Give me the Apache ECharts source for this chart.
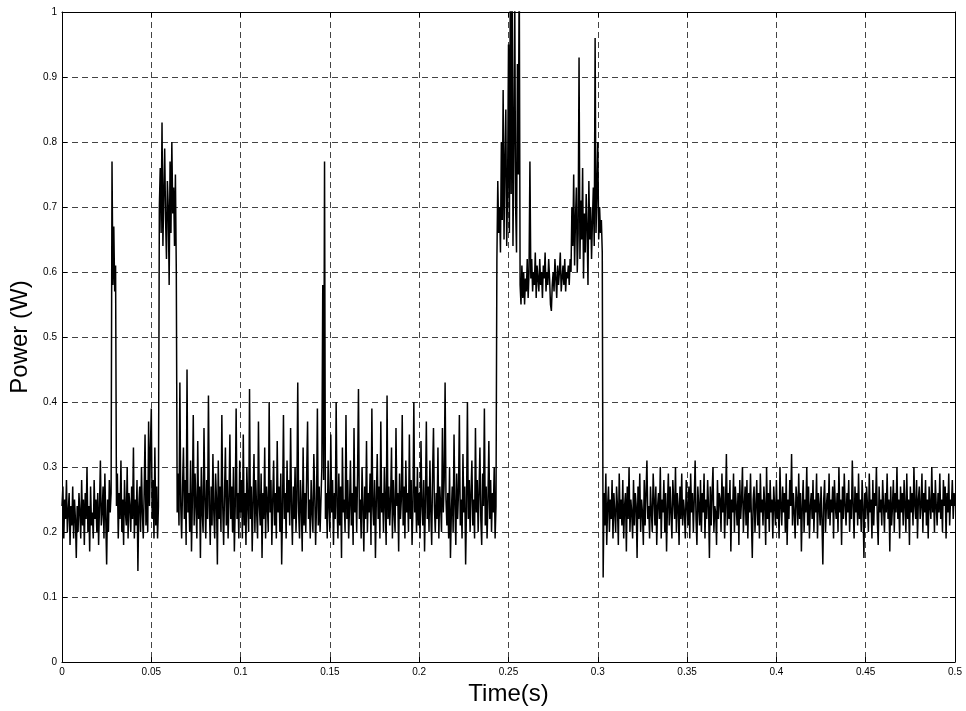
<!DOCTYPE html>
<html>
<head>
<meta charset="utf-8">
<script src="https://cdn.jsdelivr.net/npm/echarts@6/dist/echarts.min.js"></script>
<style>html,body{margin:0;padding:0;background:#fff;}#c{width:966px;height:711px;}</style>
</head>
<body>
<div id="c"></div>
<script>
// Sample spacing (s) and start time of each 0.05 s window
var sampleStep = 0.0005;
var windowStarts = [0, 0.05, 0.10, 0.15, 0.20, 0.25, 0.30, 0.35, 0.40, 0.45];
var xTicks = [0, 0.05, 0.1, 0.15, 0.2, 0.25, 0.3, 0.35, 0.4, 0.45, 0.5];
var yTicks = [0, 0.1, 0.2, 0.3, 0.4, 0.5, 0.6, 0.7, 0.8, 0.9, 1];

// Power (W), one array per 0.05 s window
var power_000 = [
.24,.27,.19,.25,.22,.28,.20,.23,.26,.18,.24,.21,.27,.19,.25,.22,.16,.24,.20,.26,
.23,.19,.28,.21,.25,.18,.26,.22,.30,.20,.24,.17,.27,.21,.23,.19,.28,.22,.25,.20,
.26,.18,.24,.31,.21,.23,.27,.19,.29,.22,.15,.25,.20,.28,.23,.26,.77,.58,.67,.57,
.61,.24,.29,.19,.26,.22,.31,.20,.25,.18,.28,.23,.21,.30,.19,.26,.24,.20,.27,.22,
.33,.19,.25,.21,.28,.14,.24,.27,.20,.30,.23,.19,.26,.35,.21,.28,.20,.37,.24,.33];
var power_050 = [
.39,.22,.28,.19,.33,.21,.27,.19,.24,
.70,.76,.66,.83,.64,.72,.79,.68,.62,.74,.70,.58,.77,.66,.80,.69,.73,.64,.75,
.60,.23,
.29,.21,.43,.24,.19,.27,.33,.22,.28,.18,.45,.23,.26,.20,.31,.17,.25,.38,.21,.29,
.24,.19,.34,.22,.27,.16,.30,.23,.20,.36,.25,.19,.28,.22,.41,.24,.18,.27,.21,.32,
.23,.19,.29,.25,.15,.31,.22,.27,.20,.38,.24,.18,.26,.33,.21,.28,.19,.25,.35,.22,
.27,.20,.30,.17,.24,.39,.22,.26,.19,.31];
var power_100 = [
.23,.28,.19,.35,.21,.26,.18,.30,.24,.20,.42,.22,.27,.17,.25,.32,.20,.28,.23,.19,
.37,.24,.21,.29,.16,.26,.22,.33,.19,.27,.24,.20,.40,.23,.28,.18,.25,.31,.21,.26,
.19,.34,.23,.27,.20,.29,.15,.24,.38,.22,.26,.19,.31,.23,.28,.21,.36,.24,.18,.27,
.22,.30,.20,.25,.43,.23,.19,.28,.24,.17,.33,.21,.26,.20,.29,.37,.22,.25,.19,.28,
.23,.20,.32,.26,.18,.24,.39,.21,.27,.20,.25,.30,.58,.28,.77,.22,.26,.19,.31,.24];
var power_150 = [
.20,.35,.23,.28,.18,.26,.22,.40,.24,.19,.29,.21,.27,.16,.33,.23,.25,.20,.38,.22,
.28,.19,.24,.31,.21,.26,.18,.36,.23,.27,.20,.29,.42,.22,.25,.19,.30,.24,.17,.27,
.22,.34,.20,.26,.23,.29,.18,.39,.24,.21,.28,.16,.25,.32,.22,.27,.19,.37,.23,.26,
.20,.30,.24,.18,.41,.22,.27,.21,.25,.33,.19,.28,.23,.20,.36,.24,.26,.17,.29,.22,
.25,.38,.21,.27,.19,.31,.23,.26,.20,.35,.22,.28,.18,.24,.40,.23,.27,.20,.30,.21];
var power_200 = [
.26,.19,.34,.24,.21,.28,.17,.25,.37,.22,.27,.20,.31,.23,.18,.29,.36,.24,.20,.26,
.22,.33,.19,.27,.24,.20,.36,.23,.28,.43,.25,.21,.26,.19,.30,.16,.23,.27,.20,.35,
.24,.18,.29,.22,.26,.38,.21,.25,.19,.32,.23,.27,.15,.24,.40,.22,.28,.20,.26,.31,
.21,.25,.19,.36,.23,.28,.20,.26,.33,.22,.18,.29,.24,.39,.21,.27,.19,.25,.34,.22,
.28,.20,.26,.23,.30,.19,.24,
.62,.74,.66,.70,.63,.80,.68,.88,.65,.77,.85,.64,.73];
var power_250 = [
.95,.66,1.05,.72,1.1,.64,.80,1.02,.70,.63,.92,.75,1.08,
.58,.55,.61,.56,.60,.55,.59,.57,.62,.56,.60,
.77,
.59,.62,.57,.60,.58,.63,.56,.61,.59,.57,.62,.58,.60,.56,.61,.59,.63,.57,.60,.58,
.62,.59,.55,.54,.58,.60,.57,.62,.59,.56,.61,.58,.60,.63,.57,.59,.61,.58,.62,.57,
.60,.59,.61,.58,.62,.60,
.70,.64,.75,.61,.68,.73,.60,.66,.93,.62,.71,.65,.76,.59,.69,.63,.72,.67,.58,.74,
.65,.70,.62,.68,.73,.64,.96,.66,.72];
var power_300 = [
.80,.65,.70,.66,.68,.63,.13,
.26,.21,.29,.18,.24,.27,.20,.25,.22,.28,.19,.26,.23,
.20,.27,.24,.18,.29,.22,.25,.21,.28,.19,.24,.26,.17,.27,.22,.30,.20,.25,.23,.19,
.28,.21,.26,.24,.16,.27,.22,.29,.20,.25,.23,.18,.28,.21,.26,.31,.22,.24,.19,.27,
.23,.20,.29,.25,.21,.27,.18,.24,.26,.22,.30,.19,.25,.23,.28,.20,.26,.17,.24,.29,
.21,.27,.23,.19,.28,.25,.22,.30,.20,.26,.24,.18,.27,.22,.29,.21,.25,.23,.19,.28];
var power_350 = [
.24,.21,.27,.19,.29,.23,.26,.20,.25,.31,.22,.18,.27,.24,.21,.28,.20,.26,.23,.29,
.19,.25,.22,.28,.24,.16,.27,.21,.26,.30,.20,.24,.23,.18,.28,.22,.26,.25,.20,.29,
.23,.27,.19,.24,.32,.21,.26,.22,.28,.17,.25,.23,.29,.20,.27,.24,.21,.26,.18,.28,
.22,.25,.30,.20,.24,.27,.21,.28,.19,.26,.23,.29,.22,.16,.25,.27,.20,.24,.28,.21,
.26,.19,.29,.23,.25,.21,.27,.24,.18,.30,.22,.26,.20,.28,.23,.25,.19,.27,.24,.21];
var power_400 = [
.28,.22,.25,.19,.30,.24,.21,.27,.23,.26,.20,.29,.18,.25,.22,.28,.24,.32,.21,.26,
.23,.19,.27,.25,.21,.29,.22,.26,.17,.24,.28,.20,.25,.23,.30,.21,.27,.19,.24,.26,
.22,.28,.20,.25,.23,.29,.19,.26,.24,.21,.27,.22,.15,.25,.28,.20,.24,.26,.22,.29,
.21,.25,.23,.27,.19,.28,.24,.22,.26,.20,.30,.23,.25,.18,.27,.22,.29,.24,.21,.26,
.23,.28,.20,.25,.22,.31,.24,.19,.27,.23,.26,.21,.29,.22,.25,.20,.28,.24,.16,.26];
var power_450 = [
.22,.27,.24,.20,.29,.23,.25,.19,.28,.21,.26,.24,.30,.22,.18,.27,.23,.25,.21,.28,
.24,.20,.26,.23,.29,.22,.25,.17,.27,.21,.24,.28,.20,.26,.23,.30,.22,.25,.19,.27,
.23,.26,.21,.28,.24,.20,.29,.22,.25,.18,.27,.23,.26,.21,.30,.24,.22,.28,.19,.25,
.27,.22,.24,.29,.20,.26,.23,.28,.21,.25,.19,.27,.24,.22,.30,.23,.26,.20,.28,.24,
.21,.26,.23,.29,.22,.25,.20,.28,.24,.27,.19,.26,.23,.29,.21,.25,.24,.28,.22,.26,.24];

var windows = [power_000, power_050, power_100, power_150, power_200,
               power_250, power_300, power_350, power_400, power_450];

var seriesData = [];
windows.forEach(function (arr, w) {
  arr.forEach(function (v, j) {
    var t = Math.round((windowStarts[w] + j * sampleStep) * 1e5) / 1e5;
    seriesData.push([t, v]);
  });
});

var font = '"Liberation Sans", Arial, Helvetica, sans-serif';
var gridLine = { show: true, lineStyle: { color: '#444', type: [6, 4], width: 1 } };

var chart = echarts.init(document.getElementById('c'), null, { renderer: 'canvas' });
chart.setOption({
  animation: false,
  backgroundColor: '#fff',
  grid: { left: 62, top: 12, right: 11, bottom: 49, containLabel: false },
  xAxis: [{
    type: 'value', min: xTicks[0], max: xTicks[xTicks.length - 1], interval: 0.05,
    name: 'Time(s)', nameLocation: 'middle', nameGap: 17,
    nameTextStyle: { fontFamily: font, fontSize: 24, color: '#000' },
    axisLine: { show: true, onZero: false, lineStyle: { color: '#000', width: 1 } },
    axisTick: { show: true, inside: true, length: 5, lineStyle: { color: '#000' } },
    axisLabel: { fontFamily: font, fontSize: 10, color: '#000', margin: 5,
      formatter: function (v) { return String(Math.round(v * 100) / 100); } },
    splitLine: gridLine
  }, {
    type: 'value', position: 'top', min: 0, max: 0.5, interval: 0.05,
    axisLine: { show: true, onZero: false, lineStyle: { color: '#000', width: 1 } },
    axisTick: { show: true, inside: true, length: 5, lineStyle: { color: '#000' } },
    axisLabel: { show: false }, splitLine: { show: false }
  }],
  yAxis: [{
    type: 'value', min: yTicks[0], max: yTicks[yTicks.length - 1], interval: 0.1,
    name: 'Power (W)', nameLocation: 'middle', nameGap: 28,
    nameTextStyle: { fontFamily: font, fontSize: 24, color: '#000' },
    axisLine: { show: true, onZero: false, lineStyle: { color: '#000', width: 1 } },
    axisTick: { show: true, inside: true, length: 5, lineStyle: { color: '#000' } },
    axisLabel: { fontFamily: font, fontSize: 10, color: '#000', margin: 5,
      formatter: function (v) { return String(Math.round(v * 10) / 10); } },
    splitLine: gridLine
  }, {
    type: 'value', position: 'right', min: 0, max: 1, interval: 0.1,
    axisLine: { show: true, onZero: false, lineStyle: { color: '#000', width: 1 } },
    axisTick: { show: true, inside: true, length: 5, lineStyle: { color: '#000' } },
    axisLabel: { show: false }, splitLine: { show: false }
  }],
  series: [{
    type: 'line', xAxisIndex: 0, yAxisIndex: 0,
    data: seriesData, showSymbol: false, symbol: 'none', clip: true,
    lineStyle: { color: '#000', width: 1.5 }
  }]
});
</script>
</body>
</html>
